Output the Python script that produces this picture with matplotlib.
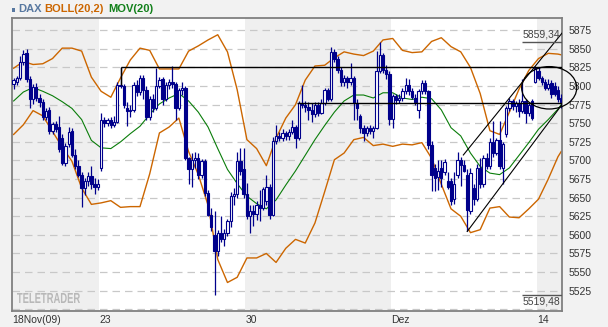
import matplotlib
matplotlib.use("Agg")
import matplotlib.pyplot as plt
import numpy as np
from matplotlib.patches import Ellipse, PathPatch, Rectangle
from matplotlib.textpath import TextPath
from matplotlib.font_manager import FontProperties
from matplotlib.transforms import Affine2D, IdentityTransform

# ---- data (hourly-ish bars, 9 per trading day) ----
opens = [5803, 5806, 5811, 5832, 5845, 5809, 5782, 5799, 5784,
         5779, 5759, 5768, 5740, 5749, 5745, 5730, 5697, 5722,
         5740, 5708, 5692, 5681, 5663, 5672, 5679, 5668, 5664,
         5690, 5755, 5750, 5754, 5748, 5752, 5802, 5800, 5770,
         5766, 5768, 5802, 5792, 5811, 5795, 5758, 5782, 5770,
         5800, 5809, 5782, 5802, 5805, 5803, 5771, 5795, 5798,
         5703, 5688, 5700, 5704, 5680, 5699, 5656, 5627, 5600,
         5578, 5603, 5594, 5603, 5618, 5652, 5655, 5699, 5688,
         5655, 5626, 5632, 5628, 5640, 5636, 5645, 5665, 5627,
         5726, 5733, 5730, 5737, 5733, 5738, 5745, 5730, 5777,
         5775, 5772, 5768, 5762, 5775, 5764, 5777, 5795, 5783,
         5846, 5836, 5822, 5806, 5811, 5805, 5811, 5777, 5760,
         5744, 5737, 5744, 5739, 5744, 5820, 5842, 5822, 5816,
         5756, 5786, 5781, 5784, 5793, 5802, 5793, 5784, 5768,
         5793, 5804, 5793, 5721, 5690, 5678, 5690, 5685, 5672,
         5672, 5648, 5681, 5700, 5694, 5681, 5632, 5663, 5648,
         5690, 5668, 5703, 5692, 5725, 5710, 5727, 5690, 5735,
         5770, 5780, 5773, 5777, 5766, 5780, 5764, 5780, 5806,
         5820, 5811, 5806, 5797, 5804, 5800, 5795, 5784]
highs = [5811, 5813, 5840, 5848, 5850, 5814, 5803, 5804, 5790,
         5782, 5770, 5772, 5752, 5753, 5760, 5735, 5724, 5745,
         5744, 5715, 5700, 5684, 5676, 5685, 5692, 5676, 5675,
         5764, 5759, 5757, 5758, 5760, 5806, 5826, 5803, 5778,
         5774, 5806, 5808, 5815, 5815, 5800, 5786, 5790, 5824,
         5812, 5812, 5806, 5810, 5827, 5806, 5798, 5805, 5800,
         5705, 5710, 5712, 5710, 5702, 5702, 5660, 5636, 5632,
         5606, 5625, 5608, 5622, 5658, 5663, 5712, 5717, 5717,
         5670, 5640, 5640, 5645, 5660, 5665, 5680, 5668, 5732,
         5748, 5738, 5742, 5740, 5742, 5754, 5748, 5780, 5802,
         5780, 5778, 5777, 5778, 5779, 5782, 5798, 5798, 5853,
         5850, 5840, 5825, 5815, 5814, 5831, 5814, 5782, 5763,
         5748, 5746, 5748, 5747, 5847, 5859.34, 5845, 5828, 5820,
         5790, 5790, 5789, 5797, 5811, 5810, 5798, 5790, 5796,
         5808, 5808, 5795, 5726, 5695, 5700, 5700, 5702, 5685,
         5676, 5685, 5712, 5705, 5700, 5688, 5690, 5668, 5695,
         5703, 5708, 5710, 5730, 5753, 5730, 5753, 5725, 5773,
         5784, 5783, 5780, 5782, 5809, 5783, 5778, 5782, 5827,
         5826, 5814, 5810, 5809, 5808, 5806, 5800, 5790]
lows = [5796, 5802, 5808, 5828, 5805, 5771, 5776, 5780, 5772,
        5755, 5754, 5735, 5736, 5738, 5712, 5694, 5693, 5718,
        5705, 5688, 5678, 5638, 5654, 5666, 5662, 5655, 5660,
        5686, 5745, 5746, 5744, 5745, 5750, 5797, 5770, 5746,
        5758, 5765, 5786, 5788, 5782, 5755, 5755, 5765, 5768,
        5798, 5775, 5780, 5796, 5798, 5755, 5768, 5788, 5700,
        5668, 5664, 5690, 5675, 5676, 5652, 5625, 5605, 5519.48,
        5572, 5590, 5585, 5598, 5610, 5640, 5650, 5680, 5650,
        5622, 5602, 5612, 5620, 5618, 5633, 5640, 5622, 5625,
        5722, 5726, 5726, 5728, 5728, 5735, 5717, 5727, 5770,
        5765, 5755, 5752, 5758, 5760, 5762, 5774, 5780, 5780,
        5832, 5818, 5800, 5800, 5798, 5802, 5755, 5755, 5737,
        5726, 5733, 5735, 5730, 5742, 5818, 5818, 5810, 5748,
        5744, 5776, 5777, 5780, 5790, 5788, 5782, 5775, 5757,
        5790, 5790, 5716, 5659, 5659, 5660, 5665, 5680, 5662,
        5640, 5642, 5676, 5666, 5684, 5604.6, 5628, 5640, 5645,
        5663, 5665, 5688, 5688, 5705, 5708, 5688, 5668, 5732,
        5766, 5768, 5765, 5759, 5764, 5750, 5760, 5755, 5804,
        5808, 5802, 5795, 5795, 5784, 5786, 5778, 5770]
closes = [5808, 5811, 5832, 5843, 5809, 5782, 5799, 5784, 5778,
          5759, 5766, 5740, 5749, 5742, 5716, 5697, 5720, 5738,
          5708, 5692, 5681, 5663, 5672, 5679, 5668, 5664, 5668,
          5755, 5750, 5754, 5748, 5752, 5802, 5800, 5774, 5766,
          5768, 5802, 5792, 5811, 5795, 5758, 5782, 5770, 5800,
          5808, 5782, 5802, 5805, 5803, 5771, 5795, 5798, 5703,
          5688, 5700, 5704, 5680, 5699, 5656, 5627, 5610, 5578,
          5603, 5594, 5603, 5618, 5652, 5655, 5699, 5686, 5655,
          5626, 5632, 5628, 5640, 5636, 5662, 5665, 5627, 5726,
          5733, 5730, 5737, 5733, 5738, 5745, 5730, 5777, 5775,
          5772, 5768, 5762, 5775, 5764, 5777, 5795, 5783, 5846,
          5836, 5822, 5806, 5811, 5805, 5811, 5777, 5770, 5744,
          5737, 5744, 5739, 5744, 5820, 5842, 5822, 5816, 5756,
          5786, 5781, 5784, 5793, 5802, 5793, 5785, 5778, 5793,
          5804, 5793, 5721, 5681, 5676, 5686, 5676, 5698, 5664,
          5645, 5668, 5700, 5694, 5686, 5634, 5683, 5648, 5690,
          5668, 5703, 5692, 5725, 5710, 5727, 5692, 5722, 5770,
          5780, 5773, 5777, 5766, 5780, 5764, 5775, 5757, 5824,
          5811, 5806, 5797, 5803, 5790, 5789, 5782, 5778]

band_x = list(range(0, 169, 3)) + [169]
boll_upper = [5824, 5833, 5829, 5830, 5837, 5851, 5851, 5847, 5812, 5793,
              5785, 5811, 5835, 5851, 5848, 5823, 5823, 5823, 5847, 5854,
              5862, 5869, 5846, 5795, 5728, 5716, 5693, 5730, 5757, 5775,
              5808, 5827, 5828, 5838, 5846, 5843, 5841, 5847, 5862, 5864,
              5848, 5845, 5846, 5860, 5865, 5853, 5846, 5825, 5790, 5740,
              5735, 5765, 5796, 5821, 5837, 5844, 5843, 5842]
boll_lower = [5735, 5748, 5767, 5760, 5739, 5718, 5699, 5663, 5641, 5643,
              5646, 5637, 5638, 5638, 5682, 5737, 5745, 5757, 5712, 5681,
              5640, 5567, 5536, 5543, 5569, 5569, 5575, 5563, 5582, 5594,
              5589, 5616, 5658, 5701, 5710, 5728, 5731, 5720, 5722, 5719,
              5722, 5721, 5724, 5703, 5668, 5635, 5625, 5603, 5607, 5636,
              5638, 5624, 5623, 5635, 5648, 5675, 5705, 5712]
mov20 = [5780, 5792, 5798, 5793, 5787, 5779, 5770, 5755, 5727, 5717,
         5716, 5725, 5736, 5746, 5762, 5776, 5784, 5790, 5780, 5765,
         5745, 5716, 5688, 5669, 5652, 5642, 5635, 5647, 5667, 5686,
         5707, 5728, 5747, 5765, 5780, 5788, 5788, 5784, 5791, 5791,
         5784, 5782, 5785, 5783, 5768, 5744, 5733, 5710, 5692, 5683,
         5681, 5690, 5707, 5724, 5742, 5755, 5769, 5775]

week_starts = [-0.5, 26.5, 71.5, 116.5, 161.5]
week_labels = ['18Nov(09)', '23', '30', 'Dez', '14']
shaded_weeks = [(-0.5, 26.5), (71.5, 116.5), (161.5, 171)]
y_ticks = list(range(5525, 5876, 25))
hi_value, lo_value = 5859.34, 5519.48
hi_text, lo_text = '5859,34', '5519,48'

# drawn studies
resist_upper = (33.1, 5825.3)
resist_lower = (87.5, 5777.0)
chan_up = [(138.8, 169.3), (5707.4, 5871.4)]
chan_dn = [(140.0, 169.6), (5604.6, 5777.2)]
circle_center, circle_w, circle_h = (165.3, 5797.7), 17.0, 57.0

# ---- figure ----
W, H = 608, 327
fig = plt.figure(figsize=(W / 100, H / 100), dpi=100, facecolor='#f2f2f2')
ax = fig.add_axes([12 / W, 1 - 311 / H, 550 / W, 293 / H])
ax.set_facecolor('white')
ax.set_xlim(-0.5, 169.25)
ax.set_ylim(5497.7, 5891.5)

navy = '#00008b'
tick_font = FontProperties(family='Liberation Sans', size=7.5)

for a, b in shaded_weeks:
    ax.axvspan(a, b, color='#efefef', lw=0, zorder=0)
for v in range(5500, 5876, 25):
    ax.axhline(v, color='#c8c8c8', lw=0.9, ls=(0, (6, 4)), zorder=1)

ax.plot(band_x, boll_upper, color='#cc6600', lw=1.0, zorder=2)
ax.plot(band_x, boll_lower, color='#cc6600', lw=1.0, zorder=2)
ax.plot(band_x, mov20, color='#0a7d0a', lw=0.8, zorder=2)

x = np.arange(len(opens))
o, h, l, c = map(np.array, (opens, highs, lows, closes))
ax.vlines(x, l, h, color=navy, lw=0.9, zorder=3)
up = c >= o
body_w = 0.72
ax.bar(x[up], np.maximum(c[up] - o[up], 1.0), bottom=o[up], width=body_w,
       facecolor='white', edgecolor=navy, lw=0.8, zorder=4)
ax.bar(x[~up], np.maximum(o[~up] - c[~up], 1.0), bottom=c[~up], width=body_w,
       facecolor=navy, edgecolor=navy, lw=0.8, zorder=4)

# trend studies
ax.hlines(resist_upper[1], resist_upper[0], 170, color='black', lw=1.0, zorder=5)
ax.vlines(resist_upper[0], 5802, resist_upper[1], color='black', lw=1.0, zorder=5)
ax.hlines(resist_lower[1], resist_lower[0], 170, color='black', lw=1.0, zorder=5)
ax.plot(*chan_up, color='black', lw=0.8, zorder=5)
ax.plot(*chan_dn, color='black', lw=0.8, zorder=5)
ax.add_patch(Ellipse(circle_center, circle_w, circle_h, fill=False,
                     edgecolor='black', lw=0.9, zorder=6, clip_on=False))

# max / min markers
ax.hlines([hi_value, lo_value], 156.9, 170, color='#555555', lw=1.0, zorder=6)
ax.annotate(hi_text, (157.0, hi_value), xytext=(0, 1.5), textcoords='offset points',
            ha='left', va='bottom', color='#444444', fontproperties=tick_font, zorder=7)
ax.annotate(lo_text, (157.0, lo_value), xytext=(0, -1.5), textcoords='offset points',
            ha='left', va='top', color='#444444', fontproperties=tick_font, zorder=7)

# axes cosmetics
for s in ax.spines.values():
    s.set_color('#808080')
    s.set_linewidth(1.3)
ax.yaxis.tick_right()
ax.set_yticks(y_ticks)
ax.set_yticklabels([str(v) for v in y_ticks], fontproperties=tick_font, color='#333333')
ax.set_xticks(week_starts)
ax.set_xticklabels(week_labels, fontproperties=tick_font, color='#333333', ha='left')
ax.tick_params(axis='both', length=0)
ax.tick_params(axis='y', pad=5)
ax.tick_params(axis='x', pad=3)

# header legend
legend_font = FontProperties(family='Liberation Sans', weight='bold', size=8)
ty = 1 - 9.5 / H
fig.patches.append(Rectangle((11.5 / W, 1 - 12 / H), 3.5 / W, 3.5 / H,
                             transform=fig.transFigure, facecolor='#5878a0',
                             edgecolor='none', figure=fig))
fig.text(18 / W, ty, 'DAX', color='#5878a0', fontproperties=legend_font, va='center')
fig.text(44 / W, ty, 'BOLL(20,2)', color='#cc6600', fontproperties=legend_font, va='center')
fig.text(108 / W, ty, 'MOV(20)', color='#11801a', fontproperties=legend_font, va='center')

# watermark
tp = TextPath((0, 0), 'TELETRADER', size=10,
              prop=FontProperties(family='Liberation Sans', weight='bold'))
bb = tp.get_extents()
sx, sy = 63 / bb.width, 10 / bb.height
tr = Affine2D().translate(-bb.x0, -bb.y0).scale(sx, sy).translate(17, H - 303)
fig.patches.append(PathPatch(tp, transform=tr + IdentityTransform(), facecolor='#b8b8b8',
                             edgecolor='none', figure=fig))

fig.savefig('out.png', dpi=100, facecolor=fig.get_facecolor())
